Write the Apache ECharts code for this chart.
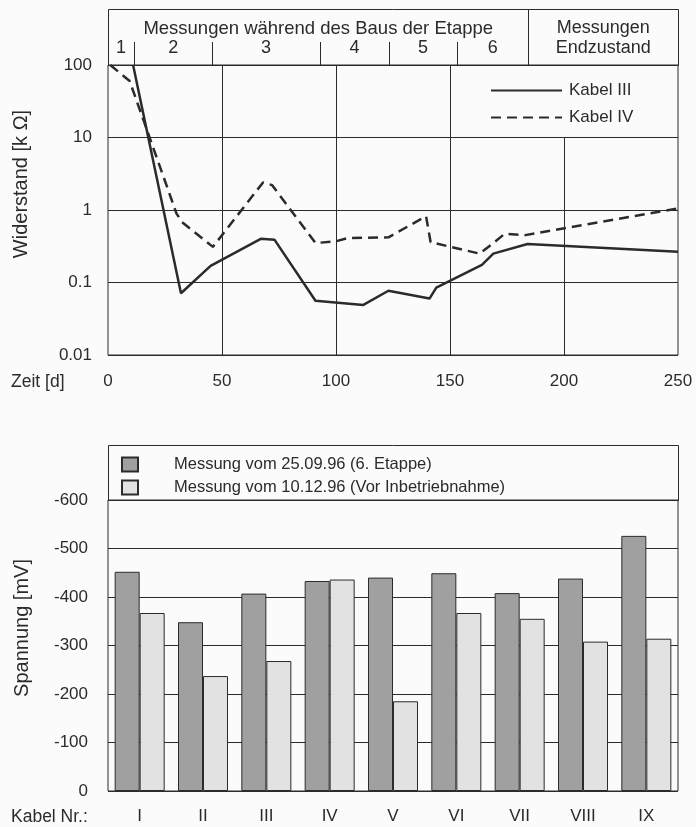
<!DOCTYPE html>
<html>
<head>
<meta charset="utf-8">
<script src="https://cdn.jsdelivr.net/npm/echarts@6/dist/echarts.min.js"></script>
<style>
html,body{margin:0;padding:0;background:#fafbfa;}
#c{width:696px;height:827px;}
</style>
</head>
<body>
<div id="c"></div>
<script>
// ---------- data: top chart (resistance over time) ----------
const days3   = [11, 32, 45, 67, 73, 91, 112, 123, 141, 144, 164, 169, 184, 250];
const kabel3  = [100, 0.071, 0.17, 0.40, 0.39, 0.056, 0.049, 0.077, 0.06, 0.085, 0.175, 0.25, 0.34, 0.265];
const days4   = [1, 9.5, 30, 32.5, 46, 68, 72, 91, 100, 105, 123, 139.5, 141.5, 163, 169, 174, 183, 250];
const kabel4  = [100, 60, 0.9, 0.68, 0.31, 2.4, 2.2, 0.35, 0.37, 0.41, 0.42, 0.82, 0.36, 0.25, 0.35, 0.47, 0.45, 1.05];
const yTickLabels = ['0.01', '0.1', '1', '10', '100'];
const phaseLabels = ['1', '2', '3', '4', '5', '6'];
const phaseBounds = [0, 11.5, 45.7, 93, 123.3, 153, 184.4]; // days where construction phases change
const endLabel = ['Messungen', 'Endzustand'];
const headerTitle = 'Messungen während des Baus der Etappe';
const lineNames = ['Kabel III', 'Kabel IV'];

// ---------- data: bottom chart (voltage per cable) ----------
const cables  = ['I', 'II', 'III', 'IV', 'V', 'VI', 'VII', 'VIII', 'IX'];
const mess1   = [-452, -348, -407, -433, -440, -449, -408, -438, -526];
const mess2   = [-367, -237, -268, -436, -185, -367, -355, -308, -314];
const barNames = ['Messung vom 25.09.96 (6. Etappe)', 'Messung vom 10.12.96 (Vor Inbetriebnahme)'];

const FONT = '"Liberation Sans", Arial, Helvetica, sans-serif';
const INK = '#2b2b2b';
const BG = '#fafbfa';
const NONE = 'rgba(0,0,0,0)';

const chart = echarts.init(document.getElementById('c'), null, {renderer: 'canvas'});

const option = {
  backgroundColor: BG,
  animation: false,
  textStyle: {fontFamily: FONT, color: INK},
  grid: [
    {left: 108, right: 18, top: 65, height: 290, show: true, borderColor: INK, borderWidth: 1, backgroundColor: 'transparent'},
    {left: 108, right: 18, top: 500, height: 291, show: true, borderColor: INK, borderWidth: 1, backgroundColor: 'transparent'}
  ],
  xAxis: [
    {type: 'value', gridIndex: 0, min: 0, max: 250, interval: 50,
     axisLine: {show: false}, axisTick: {show: false}, splitLine: {show: false},
     axisLabel: {fontSize: 17, color: INK, fontFamily: FONT, margin: 18}},
    {type: 'category', gridIndex: 1, data: cables,
     axisLine: {show: false}, axisTick: {show: false}, splitLine: {show: false},
     axisLabel: {fontSize: 17, color: INK, fontFamily: FONT, margin: 17}}
  ],
  yAxis: [
    {type: 'log', logBase: 10, gridIndex: 0, min: 0.01, max: 100,
     axisLine: {show: false}, axisTick: {show: false},
     splitLine: {show: true, lineStyle: {color: INK, width: 1}},
     axisLabel: {fontSize: 17, color: INK, fontFamily: FONT, margin: 16, padding: [0, 0, 9, 0],
       formatter: v => yTickLabels[Math.round(Math.log10(v)) + 2]}},
    {type: 'value', gridIndex: 1, min: -600, max: 0, interval: 100, inverse: true,
     axisLine: {show: false}, axisTick: {show: false},
     splitLine: {show: true, lineStyle: {color: INK, width: 1}},
     axisLabel: {fontSize: 17, color: INK, fontFamily: FONT, margin: 20, padding: [0, 0, 9, 0]}}
  ],
  legend: [
    {data: lineNames, orient: 'vertical', left: 490, top: 82, padding: 0, itemWidth: 71, itemHeight: 14, itemGap: 10,
     selectedMode: false,
     itemStyle: {color: NONE, borderColor: NONE, borderWidth: 0, opacity: 0},
     textStyle: {fontSize: 17, color: INK, fontFamily: FONT, padding: [0, 0, 0, 2]}},
    {data: barNames, orient: 'vertical', left: 121, top: 456, padding: 0, itemWidth: 16, itemHeight: 14, itemGap: 6,
     icon: 'rect', selectedMode: false,
     textStyle: {fontSize: 16.5, color: INK, fontFamily: FONT, padding: [0, 0, 0, 31]}}
  ],
  series: [
    {type: 'line', name: lineNames[0], xAxisIndex: 0, yAxisIndex: 0,
     data: days3.map((d, i) => [d, kabel3[i]]),
     symbol: 'none', lineStyle: {color: INK, width: 2.5, type: 'solid'}, itemStyle: {color: INK},
     markLine: {silent: true, symbol: 'none', label: {show: false},
       lineStyle: {color: INK, width: 1, type: 'solid'},
       data: [{xAxis: 50}, {xAxis: 100}, {xAxis: 150},
              [{coord: [200, 0.01]}, {coord: [200, 10]}]]}},
    {type: 'line', name: lineNames[1], xAxisIndex: 0, yAxisIndex: 0,
     data: days4.map((d, i) => [d, kabel4[i]]),
     symbol: 'none', lineStyle: {color: INK, width: 2.5, type: [10, 6]}, itemStyle: {color: INK}},
    {type: 'bar', name: barNames[0], xAxisIndex: 1, yAxisIndex: 1, data: mess1,
     barWidth: 25, barGap: '0%',
     itemStyle: {color: '#a0a0a0', borderColor: INK, borderWidth: 1}},
    {type: 'bar', name: barNames[1], xAxisIndex: 1, yAxisIndex: 1, data: mess2,
     barWidth: 25, barGap: '0%',
     itemStyle: {color: '#e1e2e1', borderColor: INK, borderWidth: 1}}
  ]
};
chart.setOption(option);

// ---------- header table, axis titles and left labels ----------
const px = d => chart.convertToPixel({xAxisIndex: 0}, d);
const r = v => Math.round(v) + 0.5;
const gTop = chart.convertToPixel({yAxisIndex: 0}, 100);
const gBot = chart.convertToPixel({yAxisIndex: 0}, 0.01);
const x0 = px(0), x1 = px(250);
const hTop = gTop - 56;
const lineStyle = {stroke: INK, lineWidth: 1, fill: null};
const txt = (text, x, y, size, align, extra) => Object.assign({
  type: 'text', x: x, y: y, silent: true,
  style: {text: text, fill: INK, fontSize: size, fontFamily: FONT, align: align || 'center', verticalAlign: 'middle'}
}, extra || {});

const g = [];
g.push({type: 'rect', silent: true, shape: {x: r(x0), y: r(hTop), width: Math.round(x1 - x0), height: Math.round(gTop - hTop)}, style: lineStyle});
const xEnd = px(phaseBounds[phaseBounds.length - 1]);
g.push({type: 'line', silent: true, shape: {x1: r(xEnd), y1: r(hTop), x2: r(xEnd), y2: r(gTop)}, style: lineStyle});
for (let i = 1; i < phaseBounds.length - 1; i++) {
  const xb = px(phaseBounds[i]);
  g.push({type: 'line', silent: true, shape: {x1: r(xb), y1: hTop + 33, x2: r(xb), y2: r(gTop)}, style: lineStyle});
}
for (let i = 0; i < phaseLabels.length; i++) {
  const xc = (px(phaseBounds[i]) + px(phaseBounds[i + 1])) / 2;
  g.push(txt(phaseLabels[i], xc, hTop + 39, 18));
}
g.push(txt(headerTitle, (x0 + xEnd) / 2, hTop + 19.5, 18.5));
g.push(txt(endLabel[0], (xEnd + x1) / 2, hTop + 19.5, 18));
g.push(txt(endLabel[1], (xEnd + x1) / 2, hTop + 39, 18));

// bar chart legend box (above the -600 line)
const bTop = chart.convertToPixel({yAxisIndex: 1}, -600);
g.push({type: 'rect', silent: true, shape: {x: r(x0), y: r(bTop - 55), width: Math.round(x1 - x0), height: 55}, style: lineStyle});

// left-side labels
g.push(txt('Zeit [d]', 11, gBot + 27, 17.5, 'left'));
const bBot = chart.convertToPixel({yAxisIndex: 1}, 0);
g.push(txt('Kabel Nr.:', 11, bBot + 26, 17.5, 'left'));
g.push(txt('Widerstand [k Ω]', 21, 184, 20, 'center', {rotation: Math.PI / 2}));
g.push(txt('Spannung [mV]', 22, 628, 20, 'center', {rotation: Math.PI / 2}));

chart.setOption({graphic: g});
</script>
</body>
</html>
